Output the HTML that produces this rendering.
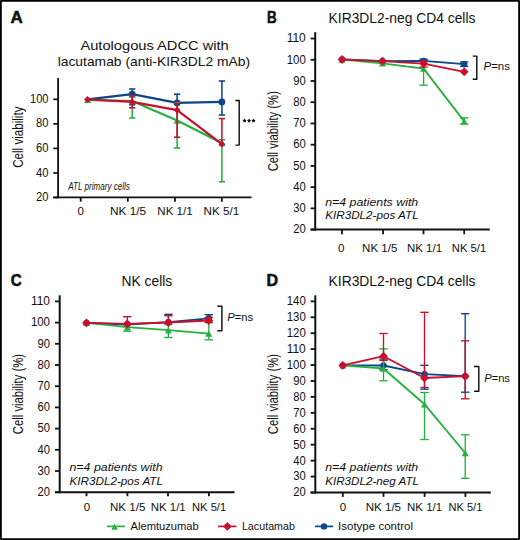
<!DOCTYPE html>
<html><head><meta charset="utf-8"><style>
html,body{margin:0;padding:0;background:#fff;width:520px;height:540px;overflow:hidden}
</style></head><body>
<svg width="520" height="540" viewBox="0 0 520 540" style="display:block">
<g font-family='"Liberation Sans", sans-serif' stroke-linejoin="round">
<rect x="0" y="0" width="520" height="540" fill="#fff"/>
<rect x="0.9" y="0.9" width="518.2" height="538.2" fill="none" stroke="#000" stroke-width="1.8"/>
<text x="10.5" y="22.6" font-size="17" text-anchor="start" font-weight="bold" fill="#111111" textLength="12.3" lengthAdjust="spacingAndGlyphs" stroke="#111" stroke-width="0.6">A</text>
<text x="266.9" y="22.8" font-size="17" text-anchor="start" font-weight="bold" fill="#111111" textLength="9.7" lengthAdjust="spacingAndGlyphs" stroke="#111" stroke-width="0.6">B</text>
<text x="10.8" y="285.9" font-size="17" text-anchor="start" font-weight="bold" fill="#111111" textLength="10.9" lengthAdjust="spacingAndGlyphs" stroke="#111" stroke-width="0.6">C</text>
<text x="266.6" y="285.6" font-size="17" text-anchor="start" font-weight="bold" fill="#111111" textLength="11.6" lengthAdjust="spacingAndGlyphs" stroke="#111" stroke-width="0.6">D</text>
<text x="154.6" y="49.5" font-size="13.5" text-anchor="middle" fill="#111111" textLength="148.4" lengthAdjust="spacingAndGlyphs">Autologous ADCC with</text>
<text x="153.9" y="66.1" font-size="13.5" text-anchor="middle" fill="#111111" textLength="192.5" lengthAdjust="spacingAndGlyphs">lacutamab (anti-KIR3DL2 mAb)</text>
<text x="23.0" y="137.2" font-size="14.5" text-anchor="middle" fill="#111111" textLength="61.3" lengthAdjust="spacingAndGlyphs" transform="rotate(-90 23.0 137.2)">Cell viability</text>
<text x="68.3" y="189.9" font-size="10.2" text-anchor="start" font-style="italic" fill="#111111" textLength="61.5" lengthAdjust="spacingAndGlyphs">ATL primary cells</text>
<line x1="58.1" y1="78.1" x2="58.1" y2="198.20000000000002" stroke="#111111" stroke-width="1.8" stroke-linecap="butt"/>
<line x1="53.3" y1="197.3" x2="251.6" y2="197.3" stroke="#111111" stroke-width="1.8" stroke-linecap="butt"/>
<line x1="53.3" y1="99.3" x2="58.1" y2="99.3" stroke="#111111" stroke-width="1.7" stroke-linecap="butt"/>
<text x="48.5" y="102.89999999999999" font-size="12.0" text-anchor="end" fill="#111111" textLength="18.5" lengthAdjust="spacingAndGlyphs">100</text>
<line x1="53.3" y1="123.85" x2="58.1" y2="123.85" stroke="#111111" stroke-width="1.7" stroke-linecap="butt"/>
<text x="48.5" y="127.44999999999999" font-size="12.0" text-anchor="end" fill="#111111" textLength="12.5" lengthAdjust="spacingAndGlyphs">80</text>
<line x1="53.3" y1="148.4" x2="58.1" y2="148.4" stroke="#111111" stroke-width="1.7" stroke-linecap="butt"/>
<text x="48.5" y="152.0" font-size="12.0" text-anchor="end" fill="#111111" textLength="12.5" lengthAdjust="spacingAndGlyphs">60</text>
<line x1="53.3" y1="172.95" x2="58.1" y2="172.95" stroke="#111111" stroke-width="1.7" stroke-linecap="butt"/>
<text x="48.5" y="176.54999999999998" font-size="12.0" text-anchor="end" fill="#111111" textLength="12.5" lengthAdjust="spacingAndGlyphs">40</text>
<line x1="53.3" y1="197.5" x2="58.1" y2="197.5" stroke="#111111" stroke-width="1.7" stroke-linecap="butt"/>
<text x="48.5" y="201.1" font-size="12.0" text-anchor="end" fill="#111111" textLength="12.5" lengthAdjust="spacingAndGlyphs">20</text>
<line x1="80.7" y1="197.3" x2="80.7" y2="201.7" stroke="#111111" stroke-width="1.8" stroke-linecap="butt"/>
<text x="80.7" y="214.8" font-size="11.6" text-anchor="middle" fill="#111111">0</text>
<line x1="127.8" y1="197.3" x2="127.8" y2="201.7" stroke="#111111" stroke-width="1.8" stroke-linecap="butt"/>
<text x="128.1" y="214.8" font-size="11.6" text-anchor="middle" fill="#111111" textLength="36.2" lengthAdjust="spacingAndGlyphs">NK 1/5</text>
<line x1="175.0" y1="197.3" x2="175.0" y2="201.7" stroke="#111111" stroke-width="1.8" stroke-linecap="butt"/>
<text x="175.0" y="214.8" font-size="11.6" text-anchor="middle" fill="#111111" textLength="35.5" lengthAdjust="spacingAndGlyphs">NK 1/1</text>
<line x1="221.8" y1="197.3" x2="221.8" y2="201.7" stroke="#111111" stroke-width="1.8" stroke-linecap="butt"/>
<text x="221.4" y="214.8" font-size="11.6" text-anchor="middle" fill="#111111" textLength="35.7" lengthAdjust="spacingAndGlyphs">NK 5/1</text>
<line x1="132.2" y1="89.0" x2="132.2" y2="104.8" stroke="#0b4689" stroke-width="1.55" stroke-linecap="butt"/>
<line x1="129.04999999999998" y1="89.0" x2="135.35" y2="89.0" stroke="#0b4689" stroke-width="1.55" stroke-linecap="butt"/>
<line x1="129.04999999999998" y1="104.8" x2="135.35" y2="104.8" stroke="#0b4689" stroke-width="1.55" stroke-linecap="butt"/>
<line x1="177.1" y1="94.2" x2="177.1" y2="102.9" stroke="#0b4689" stroke-width="1.55" stroke-linecap="butt"/>
<line x1="173.95" y1="94.2" x2="180.25" y2="94.2" stroke="#0b4689" stroke-width="1.55" stroke-linecap="butt"/>
<line x1="221.9" y1="81.0" x2="221.9" y2="115.0" stroke="#0b4689" stroke-width="1.55" stroke-linecap="butt"/>
<line x1="218.75" y1="81.0" x2="225.05" y2="81.0" stroke="#0b4689" stroke-width="1.55" stroke-linecap="butt"/>
<line x1="218.75" y1="115.0" x2="225.05" y2="115.0" stroke="#0b4689" stroke-width="1.55" stroke-linecap="butt"/>
<polyline points="87.5,99.4 132.2,94.2 177.1,102.9 221.9,101.9" fill="none" stroke="#0b4689" stroke-width="2.2" stroke-linejoin="round" stroke-linecap="round"/>
<circle cx="132.2" cy="94.2" r="3.4" fill="#0b4689"/>
<circle cx="177.1" cy="102.9" r="3.4" fill="#0b4689"/>
<circle cx="221.9" cy="101.9" r="3.4" fill="#0b4689"/>
<line x1="132.2" y1="97.1" x2="132.2" y2="118.0" stroke="#27b040" stroke-width="1.55" stroke-linecap="butt"/>
<line x1="129.04999999999998" y1="97.1" x2="135.35" y2="97.1" stroke="#27b040" stroke-width="1.55" stroke-linecap="butt"/>
<line x1="129.04999999999998" y1="118.0" x2="135.35" y2="118.0" stroke="#27b040" stroke-width="1.55" stroke-linecap="butt"/>
<line x1="177.1" y1="102.6" x2="177.1" y2="148.1" stroke="#27b040" stroke-width="1.55" stroke-linecap="butt"/>
<line x1="173.95" y1="102.6" x2="180.25" y2="102.6" stroke="#27b040" stroke-width="1.55" stroke-linecap="butt"/>
<line x1="173.95" y1="148.1" x2="180.25" y2="148.1" stroke="#27b040" stroke-width="1.55" stroke-linecap="butt"/>
<line x1="221.9" y1="139.8" x2="221.9" y2="181.8" stroke="#27b040" stroke-width="1.55" stroke-linecap="butt"/>
<line x1="218.75" y1="139.8" x2="225.05" y2="139.8" stroke="#27b040" stroke-width="1.55" stroke-linecap="butt"/>
<line x1="218.75" y1="181.8" x2="225.05" y2="181.8" stroke="#27b040" stroke-width="1.55" stroke-linecap="butt"/>
<polyline points="87.7,99.8 132.2,101.0 177.1,120.6 221.9,143.0" fill="none" stroke="#27b040" stroke-width="2.2" stroke-linejoin="round" stroke-linecap="round"/>
<polygon points="87.7,96.58 91.2,103.02 84.2,103.02" fill="#27b040"/>
<polygon points="132.2,97.78 135.7,104.22 128.7,104.22" fill="#27b040"/>
<polygon points="177.1,117.38 180.6,123.82 173.6,123.82" fill="#27b040"/>
<polygon points="221.9,139.78 225.4,146.22 218.4,146.22" fill="#27b040"/>
<line x1="132.2" y1="95.7" x2="132.2" y2="107.8" stroke="#c8102e" stroke-width="1.55" stroke-linecap="butt"/>
<line x1="129.04999999999998" y1="95.7" x2="135.35" y2="95.7" stroke="#c8102e" stroke-width="1.55" stroke-linecap="butt"/>
<line x1="129.04999999999998" y1="107.8" x2="135.35" y2="107.8" stroke="#c8102e" stroke-width="1.55" stroke-linecap="butt"/>
<line x1="177.1" y1="103.3" x2="177.1" y2="137.2" stroke="#c8102e" stroke-width="1.55" stroke-linecap="butt"/>
<line x1="173.95" y1="103.3" x2="180.25" y2="103.3" stroke="#c8102e" stroke-width="1.55" stroke-linecap="butt"/>
<line x1="173.95" y1="137.2" x2="180.25" y2="137.2" stroke="#c8102e" stroke-width="1.55" stroke-linecap="butt"/>
<line x1="221.9" y1="118.6" x2="221.9" y2="144.2" stroke="#c8102e" stroke-width="1.55" stroke-linecap="butt"/>
<line x1="218.75" y1="118.6" x2="225.05" y2="118.6" stroke="#c8102e" stroke-width="1.55" stroke-linecap="butt"/>
<polyline points="87.5,99.5 132.2,101.8 177.1,110.1 221.9,144.2" fill="none" stroke="#c8102e" stroke-width="2.2" stroke-linejoin="round" stroke-linecap="round"/>
<polygon points="87.5,96.1 90.9,99.5 87.5,102.9 84.1,99.5" fill="#c8102e"/>
<polygon points="132.2,98.39999999999999 135.6,101.8 132.2,105.2 128.79999999999998,101.8" fill="#c8102e"/>
<polygon points="177.1,106.69999999999999 180.5,110.1 177.1,113.5 173.7,110.1" fill="#c8102e"/>
<polygon points="221.9,140.79999999999998 225.3,144.2 221.9,147.6 218.5,144.2" fill="#c8102e"/>
<polyline points="235.39999999999998,100.5 239.2,100.5 239.2,145.1 235.39999999999998,145.1" fill="none" stroke="#111111" stroke-width="1.45"/>
<polygon points="244.60,118.60 245.28,119.87 246.69,120.12 245.69,121.16 245.89,122.58 244.60,121.95 243.31,122.58 243.51,121.16 242.51,120.12 243.92,119.87" fill="#111"/>
<polygon points="249.05,118.60 249.73,119.87 251.14,120.12 250.14,121.16 250.34,122.58 249.05,121.95 247.76,122.58 247.96,121.16 246.96,120.12 248.37,119.87" fill="#111"/>
<polygon points="253.50,118.60 254.18,119.87 255.59,120.12 254.59,121.16 254.79,122.58 253.50,121.95 252.21,122.58 252.41,121.16 251.41,120.12 252.82,119.87" fill="#111"/>
<text x="402.0" y="22.9" font-size="14.0" text-anchor="middle" fill="#111111" textLength="146.8" lengthAdjust="spacingAndGlyphs">KIR3DL2-neg CD4 cells</text>
<text x="277.8" y="131.2" font-size="14.5" text-anchor="middle" fill="#111111" textLength="80.2" lengthAdjust="spacingAndGlyphs" transform="rotate(-90 277.8 131.2)">Cell viability (%)</text>
<text x="325.2" y="206.2" font-size="11.8" text-anchor="start" font-style="italic" fill="#111111" textLength="93.0" lengthAdjust="spacingAndGlyphs">n=4 patients with</text>
<text x="325.2" y="219.3" font-size="11.8" text-anchor="start" font-style="italic" fill="#111111" textLength="93.5" lengthAdjust="spacingAndGlyphs">KIR3DL2-pos ATL</text>
<line x1="315.2" y1="32.2" x2="315.2" y2="230.6" stroke="#111111" stroke-width="2.0" stroke-linecap="butt"/>
<line x1="310.6" y1="229.6" x2="489.8" y2="229.6" stroke="#111111" stroke-width="2.0" stroke-linecap="butt"/>
<line x1="310.6" y1="38.52999999999997" x2="315.2" y2="38.52999999999997" stroke="#111111" stroke-width="1.8" stroke-linecap="butt"/>
<text x="305.8" y="42.32999999999997" font-size="12.0" text-anchor="end" fill="#111111" textLength="19.1" lengthAdjust="spacingAndGlyphs">110</text>
<line x1="310.6" y1="59.75999999999996" x2="315.2" y2="59.75999999999996" stroke="#111111" stroke-width="1.8" stroke-linecap="butt"/>
<text x="305.8" y="63.55999999999996" font-size="12.0" text-anchor="end" fill="#111111" textLength="19.1" lengthAdjust="spacingAndGlyphs">100</text>
<line x1="310.6" y1="80.98999999999998" x2="315.2" y2="80.98999999999998" stroke="#111111" stroke-width="1.8" stroke-linecap="butt"/>
<text x="305.8" y="84.78999999999998" font-size="12.0" text-anchor="end" fill="#111111" textLength="12.5" lengthAdjust="spacingAndGlyphs">90</text>
<line x1="310.6" y1="102.21999999999998" x2="315.2" y2="102.21999999999998" stroke="#111111" stroke-width="1.8" stroke-linecap="butt"/>
<text x="305.8" y="106.01999999999998" font-size="12.0" text-anchor="end" fill="#111111" textLength="12.5" lengthAdjust="spacingAndGlyphs">80</text>
<line x1="310.6" y1="123.44999999999999" x2="315.2" y2="123.44999999999999" stroke="#111111" stroke-width="1.8" stroke-linecap="butt"/>
<text x="305.8" y="127.24999999999999" font-size="12.0" text-anchor="end" fill="#111111" textLength="12.5" lengthAdjust="spacingAndGlyphs">70</text>
<line x1="310.6" y1="144.67999999999998" x2="315.2" y2="144.67999999999998" stroke="#111111" stroke-width="1.8" stroke-linecap="butt"/>
<text x="305.8" y="148.48" font-size="12.0" text-anchor="end" fill="#111111" textLength="12.5" lengthAdjust="spacingAndGlyphs">60</text>
<line x1="310.6" y1="165.91" x2="315.2" y2="165.91" stroke="#111111" stroke-width="1.8" stroke-linecap="butt"/>
<text x="305.8" y="169.71" font-size="12.0" text-anchor="end" fill="#111111" textLength="12.5" lengthAdjust="spacingAndGlyphs">50</text>
<line x1="310.6" y1="187.14" x2="315.2" y2="187.14" stroke="#111111" stroke-width="1.8" stroke-linecap="butt"/>
<text x="305.8" y="190.94" font-size="12.0" text-anchor="end" fill="#111111" textLength="12.5" lengthAdjust="spacingAndGlyphs">40</text>
<line x1="310.6" y1="208.37" x2="315.2" y2="208.37" stroke="#111111" stroke-width="1.8" stroke-linecap="butt"/>
<text x="305.8" y="212.17000000000002" font-size="12.0" text-anchor="end" fill="#111111" textLength="12.5" lengthAdjust="spacingAndGlyphs">30</text>
<line x1="310.6" y1="229.6" x2="315.2" y2="229.6" stroke="#111111" stroke-width="1.8" stroke-linecap="butt"/>
<text x="305.8" y="233.4" font-size="12.0" text-anchor="end" fill="#111111" textLength="12.5" lengthAdjust="spacingAndGlyphs">20</text>
<line x1="342.0" y1="229.6" x2="342.0" y2="234.3" stroke="#111111" stroke-width="1.8" stroke-linecap="butt"/>
<text x="341.3" y="251.7" font-size="11.6" text-anchor="middle" fill="#111111">0</text>
<line x1="383.1" y1="229.6" x2="383.1" y2="234.3" stroke="#111111" stroke-width="1.8" stroke-linecap="butt"/>
<text x="379.7" y="251.7" font-size="11.6" text-anchor="middle" fill="#111111" textLength="35.2" lengthAdjust="spacingAndGlyphs">NK 1/5</text>
<line x1="423.5" y1="229.6" x2="423.5" y2="234.3" stroke="#111111" stroke-width="1.8" stroke-linecap="butt"/>
<text x="424.5" y="251.7" font-size="11.6" text-anchor="middle" fill="#111111" textLength="35.2" lengthAdjust="spacingAndGlyphs">NK 1/1</text>
<line x1="464.2" y1="229.6" x2="464.2" y2="234.3" stroke="#111111" stroke-width="1.8" stroke-linecap="butt"/>
<text x="469.0" y="251.7" font-size="11.6" text-anchor="middle" fill="#111111" textLength="34.4" lengthAdjust="spacingAndGlyphs">NK 5/1</text>
<line x1="423.6" y1="59.3" x2="423.6" y2="60.9" stroke="#0b4689" stroke-width="1.35" stroke-linecap="butt"/>
<line x1="419.40000000000003" y1="59.3" x2="427.8" y2="59.3" stroke="#0b4689" stroke-width="1.35" stroke-linecap="butt"/>
<line x1="464.2" y1="62.0" x2="464.2" y2="66.3" stroke="#0b4689" stroke-width="1.35" stroke-linecap="butt"/>
<line x1="460.0" y1="62.0" x2="468.4" y2="62.0" stroke="#0b4689" stroke-width="1.35" stroke-linecap="butt"/>
<line x1="460.0" y1="66.3" x2="468.4" y2="66.3" stroke="#0b4689" stroke-width="1.35" stroke-linecap="butt"/>
<polyline points="342.1,59.5 382.5,61.2 423.6,60.9 464.2,64.2" fill="none" stroke="#0b4689" stroke-width="1.85" stroke-linejoin="round" stroke-linecap="round"/>
<circle cx="342.1" cy="59.5" r="3.2" fill="#0b4689"/>
<circle cx="382.5" cy="61.2" r="3.2" fill="#0b4689"/>
<circle cx="423.6" cy="60.9" r="3.2" fill="#0b4689"/>
<circle cx="464.2" cy="64.2" r="3.2" fill="#0b4689"/>
<line x1="423.6" y1="68.6" x2="423.6" y2="85.2" stroke="#27b040" stroke-width="1.35" stroke-linecap="butt"/>
<line x1="419.40000000000003" y1="85.2" x2="427.8" y2="85.2" stroke="#27b040" stroke-width="1.35" stroke-linecap="butt"/>
<line x1="464.2" y1="117.8" x2="464.2" y2="124.0" stroke="#27b040" stroke-width="1.35" stroke-linecap="butt"/>
<line x1="460.0" y1="117.8" x2="468.4" y2="117.8" stroke="#27b040" stroke-width="1.35" stroke-linecap="butt"/>
<line x1="460.0" y1="124.0" x2="468.4" y2="124.0" stroke="#27b040" stroke-width="1.35" stroke-linecap="butt"/>
<polyline points="342.1,59.5 382.5,63.4 423.6,68.6 464.2,121.4" fill="none" stroke="#27b040" stroke-width="1.85" stroke-linejoin="round" stroke-linecap="round"/>
<polygon points="342.1,56.28 345.6,62.72 338.6,62.72" fill="#27b040"/>
<polygon points="382.5,60.18 386.0,66.62 379.0,66.62" fill="#27b040"/>
<polygon points="423.6,65.38 427.1,71.82 420.1,71.82" fill="#27b040"/>
<polygon points="464.2,118.18 467.7,124.62 460.7,124.62" fill="#27b040"/>
<line x1="423.6" y1="61.0" x2="423.6" y2="67.0" stroke="#c8102e" stroke-width="1.35" stroke-linecap="butt"/>
<line x1="419.40000000000003" y1="61.0" x2="427.8" y2="61.0" stroke="#c8102e" stroke-width="1.35" stroke-linecap="butt"/>
<line x1="419.40000000000003" y1="67.0" x2="427.8" y2="67.0" stroke="#c8102e" stroke-width="1.35" stroke-linecap="butt"/>
<polyline points="342.1,59.5 382.5,61.2 423.6,63.6 464.2,71.8" fill="none" stroke="#c8102e" stroke-width="1.85" stroke-linejoin="round" stroke-linecap="round"/>
<polygon points="342.1,55.1 346.5,59.5 342.1,63.9 337.70000000000005,59.5" fill="#c8102e"/>
<polygon points="382.5,56.800000000000004 386.9,61.2 382.5,65.60000000000001 378.1,61.2" fill="#c8102e"/>
<polygon points="423.6,59.2 428.0,63.6 423.6,68.0 419.20000000000005,63.6" fill="#c8102e"/>
<polygon points="464.2,67.39999999999999 468.59999999999997,71.8 464.2,76.2 459.8,71.8" fill="#c8102e"/>
<polyline points="472.7,56.1 476.8,56.1 476.8,79.2 472.7,79.2" fill="none" stroke="#111111" stroke-width="1.45"/>
<text x="483.5" y="70.3" font-size="11.8" text-anchor="start" fill="#111111" textLength="26.5" lengthAdjust="spacingAndGlyphs"><tspan font-style="italic">P</tspan>=ns</text>
<text x="146.9" y="285.8" font-size="14.0" text-anchor="middle" fill="#111111" textLength="50.8" lengthAdjust="spacingAndGlyphs">NK cells</text>
<text x="23.1" y="394.1" font-size="14.8" text-anchor="middle" fill="#111111" textLength="80.1" lengthAdjust="spacingAndGlyphs" transform="rotate(-90 23.1 394.1)">Cell viability (%)</text>
<text x="69.5" y="471.2" font-size="11.8" text-anchor="start" font-style="italic" fill="#111111" textLength="93.1" lengthAdjust="spacingAndGlyphs">n=4 patients with</text>
<text x="69.5" y="484.5" font-size="11.8" text-anchor="start" font-style="italic" fill="#111111" textLength="93.5" lengthAdjust="spacingAndGlyphs">KIR3DL2-pos ATL</text>
<line x1="59.7" y1="295.3" x2="59.7" y2="493.2" stroke="#111111" stroke-width="2.0" stroke-linecap="butt"/>
<line x1="55.0" y1="492.2" x2="234.6" y2="492.2" stroke="#111111" stroke-width="2.0" stroke-linecap="butt"/>
<line x1="55.0" y1="301.4" x2="59.7" y2="301.4" stroke="#111111" stroke-width="1.8" stroke-linecap="butt"/>
<text x="50.0" y="305.2" font-size="12.0" text-anchor="end" fill="#111111" textLength="19.1" lengthAdjust="spacingAndGlyphs">110</text>
<line x1="55.0" y1="322.59999999999997" x2="59.7" y2="322.59999999999997" stroke="#111111" stroke-width="1.8" stroke-linecap="butt"/>
<text x="50.0" y="326.4" font-size="12.0" text-anchor="end" fill="#111111" textLength="19.1" lengthAdjust="spacingAndGlyphs">100</text>
<line x1="55.0" y1="343.79999999999995" x2="59.7" y2="343.79999999999995" stroke="#111111" stroke-width="1.8" stroke-linecap="butt"/>
<text x="50.0" y="347.59999999999997" font-size="12.0" text-anchor="end" fill="#111111" textLength="12.5" lengthAdjust="spacingAndGlyphs">90</text>
<line x1="55.0" y1="365.0" x2="59.7" y2="365.0" stroke="#111111" stroke-width="1.8" stroke-linecap="butt"/>
<text x="50.0" y="368.8" font-size="12.0" text-anchor="end" fill="#111111" textLength="12.5" lengthAdjust="spacingAndGlyphs">80</text>
<line x1="55.0" y1="386.2" x2="59.7" y2="386.2" stroke="#111111" stroke-width="1.8" stroke-linecap="butt"/>
<text x="50.0" y="390.0" font-size="12.0" text-anchor="end" fill="#111111" textLength="12.5" lengthAdjust="spacingAndGlyphs">70</text>
<line x1="55.0" y1="407.4" x2="59.7" y2="407.4" stroke="#111111" stroke-width="1.8" stroke-linecap="butt"/>
<text x="50.0" y="411.2" font-size="12.0" text-anchor="end" fill="#111111" textLength="12.5" lengthAdjust="spacingAndGlyphs">60</text>
<line x1="55.0" y1="428.59999999999997" x2="59.7" y2="428.59999999999997" stroke="#111111" stroke-width="1.8" stroke-linecap="butt"/>
<text x="50.0" y="432.4" font-size="12.0" text-anchor="end" fill="#111111" textLength="12.5" lengthAdjust="spacingAndGlyphs">50</text>
<line x1="55.0" y1="449.79999999999995" x2="59.7" y2="449.79999999999995" stroke="#111111" stroke-width="1.8" stroke-linecap="butt"/>
<text x="50.0" y="453.59999999999997" font-size="12.0" text-anchor="end" fill="#111111" textLength="12.5" lengthAdjust="spacingAndGlyphs">40</text>
<line x1="55.0" y1="471.0" x2="59.7" y2="471.0" stroke="#111111" stroke-width="1.8" stroke-linecap="butt"/>
<text x="50.0" y="474.8" font-size="12.0" text-anchor="end" fill="#111111" textLength="12.5" lengthAdjust="spacingAndGlyphs">30</text>
<line x1="55.0" y1="492.2" x2="59.7" y2="492.2" stroke="#111111" stroke-width="1.8" stroke-linecap="butt"/>
<text x="50.0" y="496.0" font-size="12.0" text-anchor="end" fill="#111111" textLength="12.5" lengthAdjust="spacingAndGlyphs">20</text>
<line x1="86.5" y1="492.2" x2="86.5" y2="496.2" stroke="#111111" stroke-width="1.8" stroke-linecap="butt"/>
<text x="86.9" y="511.0" font-size="11.6" text-anchor="middle" fill="#111111">0</text>
<line x1="127.4" y1="492.2" x2="127.4" y2="496.2" stroke="#111111" stroke-width="1.8" stroke-linecap="butt"/>
<text x="127.7" y="511.0" font-size="11.6" text-anchor="middle" fill="#111111" textLength="35.4" lengthAdjust="spacingAndGlyphs">NK 1/5</text>
<line x1="168.0" y1="492.2" x2="168.0" y2="496.2" stroke="#111111" stroke-width="1.8" stroke-linecap="butt"/>
<text x="168.2" y="511.0" font-size="11.6" text-anchor="middle" fill="#111111" textLength="35.0" lengthAdjust="spacingAndGlyphs">NK 1/1</text>
<line x1="208.9" y1="492.2" x2="208.9" y2="496.2" stroke="#111111" stroke-width="1.8" stroke-linecap="butt"/>
<text x="209.1" y="511.0" font-size="11.6" text-anchor="middle" fill="#111111" textLength="34.2" lengthAdjust="spacingAndGlyphs">NK 5/1</text>
<line x1="168.4" y1="314.3" x2="168.4" y2="322.2" stroke="#0b4689" stroke-width="1.35" stroke-linecap="butt"/>
<line x1="164.20000000000002" y1="314.3" x2="172.6" y2="314.3" stroke="#0b4689" stroke-width="1.35" stroke-linecap="butt"/>
<line x1="208.8" y1="314.7" x2="208.8" y2="318.3" stroke="#0b4689" stroke-width="1.35" stroke-linecap="butt"/>
<line x1="204.60000000000002" y1="314.7" x2="213.0" y2="314.7" stroke="#0b4689" stroke-width="1.35" stroke-linecap="butt"/>
<polyline points="86.5,322.9 127.3,324.5 168.4,322.2 208.8,318.3" fill="none" stroke="#0b4689" stroke-width="1.85" stroke-linejoin="round" stroke-linecap="round"/>
<circle cx="86.5" cy="322.9" r="3.2" fill="#0b4689"/>
<circle cx="127.3" cy="324.5" r="3.2" fill="#0b4689"/>
<circle cx="168.4" cy="322.2" r="3.2" fill="#0b4689"/>
<circle cx="208.8" cy="318.3" r="3.2" fill="#0b4689"/>
<line x1="127.3" y1="327.2" x2="127.3" y2="331.2" stroke="#27b040" stroke-width="1.35" stroke-linecap="butt"/>
<line x1="123.1" y1="331.2" x2="131.5" y2="331.2" stroke="#27b040" stroke-width="1.35" stroke-linecap="butt"/>
<line x1="168.4" y1="324.6" x2="168.4" y2="337.5" stroke="#27b040" stroke-width="1.35" stroke-linecap="butt"/>
<line x1="164.20000000000002" y1="324.6" x2="172.6" y2="324.6" stroke="#27b040" stroke-width="1.35" stroke-linecap="butt"/>
<line x1="164.20000000000002" y1="337.5" x2="172.6" y2="337.5" stroke="#27b040" stroke-width="1.35" stroke-linecap="butt"/>
<line x1="208.8" y1="322.0" x2="208.8" y2="339.8" stroke="#27b040" stroke-width="1.35" stroke-linecap="butt"/>
<line x1="204.60000000000002" y1="339.8" x2="213.0" y2="339.8" stroke="#27b040" stroke-width="1.35" stroke-linecap="butt"/>
<polyline points="86.5,322.9 127.3,327.2 168.4,330.2 208.8,333.6" fill="none" stroke="#27b040" stroke-width="1.85" stroke-linejoin="round" stroke-linecap="round"/>
<polygon points="86.5,319.67999999999995 90.0,326.12 83.0,326.12" fill="#27b040"/>
<polygon points="127.3,323.97999999999996 130.8,330.42 123.8,330.42" fill="#27b040"/>
<polygon points="168.4,326.97999999999996 171.9,333.42 164.9,333.42" fill="#27b040"/>
<polygon points="208.8,330.38 212.3,336.82000000000005 205.3,336.82000000000005" fill="#27b040"/>
<line x1="127.3" y1="316.7" x2="127.3" y2="323.8" stroke="#c8102e" stroke-width="1.35" stroke-linecap="butt"/>
<line x1="123.1" y1="316.7" x2="131.5" y2="316.7" stroke="#c8102e" stroke-width="1.35" stroke-linecap="butt"/>
<line x1="168.4" y1="315.7" x2="168.4" y2="322.5" stroke="#c8102e" stroke-width="1.35" stroke-linecap="butt"/>
<line x1="164.20000000000002" y1="315.7" x2="172.6" y2="315.7" stroke="#c8102e" stroke-width="1.35" stroke-linecap="butt"/>
<line x1="208.8" y1="317.6" x2="208.8" y2="322.6" stroke="#c8102e" stroke-width="1.35" stroke-linecap="butt"/>
<line x1="204.60000000000002" y1="317.6" x2="213.0" y2="317.6" stroke="#c8102e" stroke-width="1.35" stroke-linecap="butt"/>
<line x1="204.60000000000002" y1="322.6" x2="213.0" y2="322.6" stroke="#c8102e" stroke-width="1.35" stroke-linecap="butt"/>
<polyline points="86.5,322.9 127.3,323.8 168.4,322.5 208.8,320.5" fill="none" stroke="#c8102e" stroke-width="1.85" stroke-linejoin="round" stroke-linecap="round"/>
<polygon points="86.5,318.5 90.9,322.9 86.5,327.29999999999995 82.1,322.9" fill="#c8102e"/>
<polygon points="127.3,319.40000000000003 131.7,323.8 127.3,328.2 122.89999999999999,323.8" fill="#c8102e"/>
<polygon points="168.4,318.1 172.8,322.5 168.4,326.9 164.0,322.5" fill="#c8102e"/>
<polygon points="208.8,316.1 213.20000000000002,320.5 208.8,324.9 204.4,320.5" fill="#c8102e"/>
<polyline points="217.3,306.3 221.9,306.3 221.9,330.7 217.3,330.7" fill="none" stroke="#111111" stroke-width="1.45"/>
<text x="227.2" y="320.8" font-size="11.8" text-anchor="start" fill="#111111" textLength="25.8" lengthAdjust="spacingAndGlyphs"><tspan font-style="italic">P</tspan>=ns</text>
<text x="402.0" y="285.7" font-size="14.0" text-anchor="middle" fill="#111111" textLength="146.8" lengthAdjust="spacingAndGlyphs">KIR3DL2-neg CD4 cells</text>
<text x="277.8" y="394.1" font-size="14.8" text-anchor="middle" fill="#111111" textLength="80.1" lengthAdjust="spacingAndGlyphs" transform="rotate(-90 277.8 394.1)">Cell viability (%)</text>
<text x="325.2" y="471.2" font-size="11.8" text-anchor="start" font-style="italic" fill="#111111" textLength="93.0" lengthAdjust="spacingAndGlyphs">n=4 patients with</text>
<text x="325.2" y="484.5" font-size="11.8" text-anchor="start" font-style="italic" fill="#111111" textLength="93.9" lengthAdjust="spacingAndGlyphs">KIR3DL2-neg ATL</text>
<line x1="315.3" y1="295.3" x2="315.3" y2="493.5" stroke="#111111" stroke-width="2.0" stroke-linecap="butt"/>
<line x1="310.6" y1="492.5" x2="490.8" y2="492.5" stroke="#111111" stroke-width="2.0" stroke-linecap="butt"/>
<line x1="310.6" y1="301.34000000000003" x2="315.3" y2="301.34000000000003" stroke="#111111" stroke-width="1.8" stroke-linecap="butt"/>
<text x="305.8" y="305.24" font-size="12.0" text-anchor="end" fill="#111111" textLength="19.1" lengthAdjust="spacingAndGlyphs">140</text>
<line x1="310.6" y1="317.27" x2="315.3" y2="317.27" stroke="#111111" stroke-width="1.8" stroke-linecap="butt"/>
<text x="305.8" y="321.16999999999996" font-size="12.0" text-anchor="end" fill="#111111" textLength="19.1" lengthAdjust="spacingAndGlyphs">130</text>
<line x1="310.6" y1="333.2" x2="315.3" y2="333.2" stroke="#111111" stroke-width="1.8" stroke-linecap="butt"/>
<text x="305.8" y="337.09999999999997" font-size="12.0" text-anchor="end" fill="#111111" textLength="19.1" lengthAdjust="spacingAndGlyphs">120</text>
<line x1="310.6" y1="349.13" x2="315.3" y2="349.13" stroke="#111111" stroke-width="1.8" stroke-linecap="butt"/>
<text x="305.8" y="353.03" font-size="12.0" text-anchor="end" fill="#111111" textLength="19.1" lengthAdjust="spacingAndGlyphs">110</text>
<line x1="310.6" y1="365.06" x2="315.3" y2="365.06" stroke="#111111" stroke-width="1.8" stroke-linecap="butt"/>
<text x="305.8" y="368.96" font-size="12.0" text-anchor="end" fill="#111111" textLength="19.1" lengthAdjust="spacingAndGlyphs">100</text>
<line x1="310.6" y1="380.99" x2="315.3" y2="380.99" stroke="#111111" stroke-width="1.8" stroke-linecap="butt"/>
<text x="305.8" y="384.89" font-size="12.0" text-anchor="end" fill="#111111" textLength="12.5" lengthAdjust="spacingAndGlyphs">90</text>
<line x1="310.6" y1="396.92" x2="315.3" y2="396.92" stroke="#111111" stroke-width="1.8" stroke-linecap="butt"/>
<text x="305.8" y="400.82" font-size="12.0" text-anchor="end" fill="#111111" textLength="12.5" lengthAdjust="spacingAndGlyphs">80</text>
<line x1="310.6" y1="412.85" x2="315.3" y2="412.85" stroke="#111111" stroke-width="1.8" stroke-linecap="butt"/>
<text x="305.8" y="416.75" font-size="12.0" text-anchor="end" fill="#111111" textLength="12.5" lengthAdjust="spacingAndGlyphs">70</text>
<line x1="310.6" y1="428.78" x2="315.3" y2="428.78" stroke="#111111" stroke-width="1.8" stroke-linecap="butt"/>
<text x="305.8" y="432.67999999999995" font-size="12.0" text-anchor="end" fill="#111111" textLength="12.5" lengthAdjust="spacingAndGlyphs">60</text>
<line x1="310.6" y1="444.71" x2="315.3" y2="444.71" stroke="#111111" stroke-width="1.8" stroke-linecap="butt"/>
<text x="305.8" y="448.60999999999996" font-size="12.0" text-anchor="end" fill="#111111" textLength="12.5" lengthAdjust="spacingAndGlyphs">50</text>
<line x1="310.6" y1="460.64" x2="315.3" y2="460.64" stroke="#111111" stroke-width="1.8" stroke-linecap="butt"/>
<text x="305.8" y="464.53999999999996" font-size="12.0" text-anchor="end" fill="#111111" textLength="12.5" lengthAdjust="spacingAndGlyphs">40</text>
<line x1="310.6" y1="476.57" x2="315.3" y2="476.57" stroke="#111111" stroke-width="1.8" stroke-linecap="butt"/>
<text x="305.8" y="480.46999999999997" font-size="12.0" text-anchor="end" fill="#111111" textLength="12.5" lengthAdjust="spacingAndGlyphs">30</text>
<line x1="310.6" y1="492.5" x2="315.3" y2="492.5" stroke="#111111" stroke-width="1.8" stroke-linecap="butt"/>
<text x="305.8" y="496.4" font-size="12.0" text-anchor="end" fill="#111111" textLength="12.5" lengthAdjust="spacingAndGlyphs">20</text>
<line x1="342.8" y1="492.5" x2="342.8" y2="496.9" stroke="#111111" stroke-width="1.8" stroke-linecap="butt"/>
<text x="342.9" y="511.0" font-size="11.6" text-anchor="middle" fill="#111111">0</text>
<line x1="383.5" y1="492.5" x2="383.5" y2="496.9" stroke="#111111" stroke-width="1.8" stroke-linecap="butt"/>
<text x="383.4" y="511.0" font-size="11.6" text-anchor="middle" fill="#111111" textLength="35.3" lengthAdjust="spacingAndGlyphs">NK 1/5</text>
<line x1="424.6" y1="492.5" x2="424.6" y2="496.9" stroke="#111111" stroke-width="1.8" stroke-linecap="butt"/>
<text x="424.6" y="511.0" font-size="11.6" text-anchor="middle" fill="#111111" textLength="35.0" lengthAdjust="spacingAndGlyphs">NK 1/1</text>
<line x1="465.4" y1="492.5" x2="465.4" y2="496.9" stroke="#111111" stroke-width="1.8" stroke-linecap="butt"/>
<text x="465.4" y="511.0" font-size="11.6" text-anchor="middle" fill="#111111" textLength="33.8" lengthAdjust="spacingAndGlyphs">NK 5/1</text>
<line x1="383.5" y1="359.1" x2="383.5" y2="369.8" stroke="#0b4689" stroke-width="1.35" stroke-linecap="butt"/>
<line x1="379.3" y1="359.1" x2="387.7" y2="359.1" stroke="#0b4689" stroke-width="1.35" stroke-linecap="butt"/>
<line x1="379.3" y1="369.8" x2="387.7" y2="369.8" stroke="#0b4689" stroke-width="1.35" stroke-linecap="butt"/>
<line x1="424.5" y1="365.3" x2="424.5" y2="389.2" stroke="#0b4689" stroke-width="1.35" stroke-linecap="butt"/>
<line x1="420.3" y1="365.3" x2="428.7" y2="365.3" stroke="#0b4689" stroke-width="1.35" stroke-linecap="butt"/>
<line x1="420.3" y1="389.2" x2="428.7" y2="389.2" stroke="#0b4689" stroke-width="1.35" stroke-linecap="butt"/>
<line x1="465.2" y1="313.7" x2="465.2" y2="392.2" stroke="#0b4689" stroke-width="1.35" stroke-linecap="butt"/>
<line x1="461.0" y1="313.7" x2="469.4" y2="313.7" stroke="#0b4689" stroke-width="1.35" stroke-linecap="butt"/>
<line x1="461.0" y1="392.2" x2="469.4" y2="392.2" stroke="#0b4689" stroke-width="1.35" stroke-linecap="butt"/>
<polyline points="342.8,365.4 383.5,365.5 424.5,374.2 465.2,376.2" fill="none" stroke="#0b4689" stroke-width="1.85" stroke-linejoin="round" stroke-linecap="round"/>
<circle cx="342.8" cy="365.4" r="3.2" fill="#0b4689"/>
<circle cx="383.5" cy="365.5" r="3.2" fill="#0b4689"/>
<circle cx="424.5" cy="374.2" r="3.2" fill="#0b4689"/>
<circle cx="465.2" cy="376.2" r="3.2" fill="#0b4689"/>
<line x1="383.5" y1="348.9" x2="383.5" y2="380.8" stroke="#27b040" stroke-width="1.35" stroke-linecap="butt"/>
<line x1="379.3" y1="348.9" x2="387.7" y2="348.9" stroke="#27b040" stroke-width="1.35" stroke-linecap="butt"/>
<line x1="379.3" y1="380.8" x2="387.7" y2="380.8" stroke="#27b040" stroke-width="1.35" stroke-linecap="butt"/>
<line x1="424.5" y1="392.5" x2="424.5" y2="439.5" stroke="#27b040" stroke-width="1.35" stroke-linecap="butt"/>
<line x1="420.3" y1="392.5" x2="428.7" y2="392.5" stroke="#27b040" stroke-width="1.35" stroke-linecap="butt"/>
<line x1="420.3" y1="439.5" x2="428.7" y2="439.5" stroke="#27b040" stroke-width="1.35" stroke-linecap="butt"/>
<line x1="465.2" y1="434.8" x2="465.2" y2="478.3" stroke="#27b040" stroke-width="1.35" stroke-linecap="butt"/>
<line x1="461.0" y1="434.8" x2="469.4" y2="434.8" stroke="#27b040" stroke-width="1.35" stroke-linecap="butt"/>
<line x1="461.0" y1="478.3" x2="469.4" y2="478.3" stroke="#27b040" stroke-width="1.35" stroke-linecap="butt"/>
<polyline points="342.8,365.4 383.5,368.5 424.5,404.2 465.2,453.0" fill="none" stroke="#27b040" stroke-width="1.85" stroke-linejoin="round" stroke-linecap="round"/>
<polygon points="342.8,362.17999999999995 346.3,368.62 339.3,368.62" fill="#27b040"/>
<polygon points="383.5,365.28 387.0,371.72 380.0,371.72" fill="#27b040"/>
<polygon points="424.5,400.97999999999996 428.0,407.42 421.0,407.42" fill="#27b040"/>
<polygon points="465.2,449.78 468.7,456.22 461.7,456.22" fill="#27b040"/>
<line x1="383.5" y1="333.5" x2="383.5" y2="360.4" stroke="#c8102e" stroke-width="1.35" stroke-linecap="butt"/>
<line x1="379.3" y1="333.5" x2="387.7" y2="333.5" stroke="#c8102e" stroke-width="1.35" stroke-linecap="butt"/>
<line x1="379.3" y1="360.4" x2="387.7" y2="360.4" stroke="#c8102e" stroke-width="1.35" stroke-linecap="butt"/>
<line x1="424.5" y1="312.3" x2="424.5" y2="387.5" stroke="#c8102e" stroke-width="1.35" stroke-linecap="butt"/>
<line x1="420.3" y1="312.3" x2="428.7" y2="312.3" stroke="#c8102e" stroke-width="1.35" stroke-linecap="butt"/>
<line x1="420.3" y1="387.5" x2="428.7" y2="387.5" stroke="#c8102e" stroke-width="1.35" stroke-linecap="butt"/>
<line x1="465.2" y1="340.8" x2="465.2" y2="398.8" stroke="#c8102e" stroke-width="1.35" stroke-linecap="butt"/>
<line x1="461.0" y1="340.8" x2="469.4" y2="340.8" stroke="#c8102e" stroke-width="1.35" stroke-linecap="butt"/>
<line x1="461.0" y1="398.8" x2="469.4" y2="398.8" stroke="#c8102e" stroke-width="1.35" stroke-linecap="butt"/>
<polyline points="342.8,365.4 383.5,356.2 424.5,378.0 465.2,376.2" fill="none" stroke="#c8102e" stroke-width="1.85" stroke-linejoin="round" stroke-linecap="round"/>
<polygon points="342.8,361.0 347.2,365.4 342.8,369.79999999999995 338.40000000000003,365.4" fill="#c8102e"/>
<polygon points="383.5,351.8 387.9,356.2 383.5,360.59999999999997 379.1,356.2" fill="#c8102e"/>
<polygon points="424.5,373.6 428.9,378.0 424.5,382.4 420.1,378.0" fill="#c8102e"/>
<polygon points="465.2,371.8 469.59999999999997,376.2 465.2,380.59999999999997 460.8,376.2" fill="#c8102e"/>
<polyline points="474.0,366.5 478.8,366.5 478.8,391.3 474.0,391.3" fill="none" stroke="#111111" stroke-width="1.45"/>
<text x="484.2" y="381.6" font-size="11.8" text-anchor="start" fill="#111111" textLength="25.7" lengthAdjust="spacingAndGlyphs"><tspan font-style="italic">P</tspan>=ns</text>
<line x1="106.9" y1="526.4" x2="124.9" y2="526.4" stroke="#27b040" stroke-width="1.7" stroke-linecap="butt"/>
<polygon points="114.6,523.7560000000001 117.8,529.644 111.39999999999999,529.644" fill="#27b040"/>
<text x="130.5" y="529.6" font-size="11.2" text-anchor="start" fill="#111111" textLength="68.3" lengthAdjust="spacingAndGlyphs">Alemtuzumab</text>
<line x1="218.0" y1="526.4" x2="236.5" y2="526.4" stroke="#c8102e" stroke-width="1.7" stroke-linecap="butt"/>
<polygon points="227.4,522.1 231.70000000000002,526.4 227.4,530.6999999999999 223.1,526.4" fill="#c8102e"/>
<text x="241.9" y="529.6" font-size="11.2" text-anchor="start" fill="#111111" textLength="53.1" lengthAdjust="spacingAndGlyphs">Lacutamab</text>
<line x1="315.0" y1="526.4" x2="333.2" y2="526.4" stroke="#0b4689" stroke-width="1.7" stroke-linecap="butt"/>
<circle cx="324.0" cy="526.4" r="3.2" fill="#0b4689"/>
<text x="338.0" y="529.6" font-size="11.2" text-anchor="start" fill="#111111" textLength="75.0" lengthAdjust="spacingAndGlyphs">Isotype control</text>
</g></svg>
</body></html>
